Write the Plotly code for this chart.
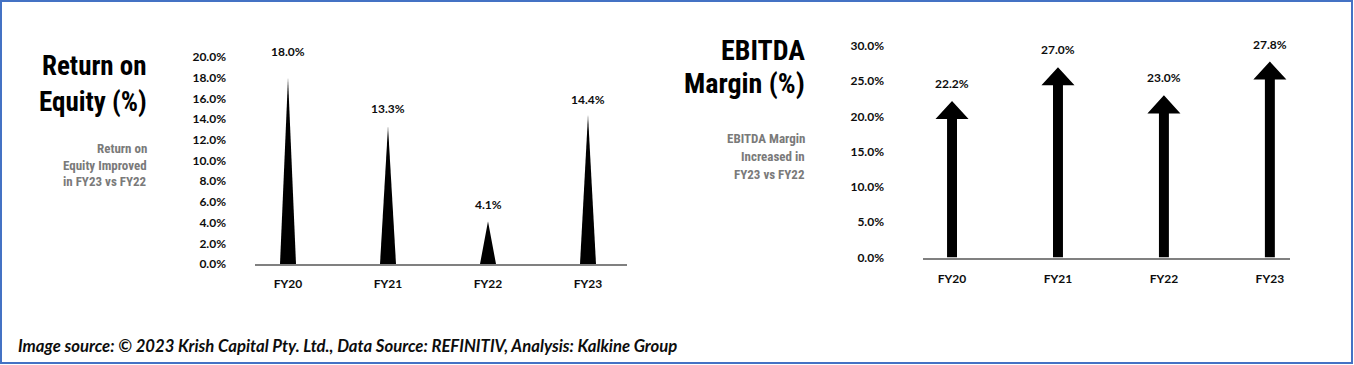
import plotly.graph_objects as go

# ---------------- data ----------------
categories = ["FY20", "FY21", "FY22", "FY23"]
roe_values = [18.0, 13.3, 4.1, 14.4]          # Return on Equity (%)
ebitda_values = [22.2, 27.0, 23.0, 27.8]      # EBITDA Margin (%)

roe_title = ["Return on", "Equity (%)"]
roe_note = ["Return on", "Equity Improved", "in FY23 vs FY22"]
ebitda_title = ["EBITDA", "Margin (%)"]
ebitda_note = ["EBITDA Margin", "Increased in", "FY23 vs FY22"]
footer = "Image source: \u00a9 2023 Krish Capital Pty. Ltd., Data Source: REFINITIV, Analysis: Kalkine Group"

# ---------------- styles ----------------
W, H = 1354, 365
TITLE_FONT = "Roboto Condensed, Open Sans Condensed, sans-serif"
LABEL_FONT = "Lato, Carlito, Open Sans, sans-serif"
roe_label_shift = [17, 8, 8, 6]     # px gap between triangle tip and label bottom
ebitda_label_shift = 8

def px_x(p):
    return p / W

def px_y(p):
    return 1 - p / H

fig = go.Figure()

# ---- ROE triangles ----
tri_half = 0.08
for i, v in enumerate(roe_values):
    fig.add_trace(go.Scatter(
        x=[i - tri_half, i, i + tri_half, i - tri_half],
        y=[0, v, 0, 0],
        fill="toself", fillcolor="black", mode="lines",
        line=dict(width=0, color="black"),
        hoverinfo="skip", showlegend=False, xaxis="x", yaxis="y"))

# ---- EBITDA arrows ----
shaft_half = 0.047
head_half = 0.156
head_h = 2.56
for i, v in enumerate(ebitda_values):
    hb = v - head_h
    fig.add_trace(go.Scatter(
        x=[i - shaft_half, i - shaft_half, i - head_half, i, i + head_half,
           i + shaft_half, i + shaft_half, i - shaft_half],
        y=[0, hb, hb, v, hb, hb, 0, 0],
        fill="toself", fillcolor="black", mode="lines",
        line=dict(width=0, color="black"),
        hoverinfo="skip", showlegend=False, xaxis="x2", yaxis="y2"))

annotations = []
lab_font = dict(family=LABEL_FONT, size=12, color="#0d0d0d", weight="bold")
for i, v in enumerate(roe_values):
    annotations.append(dict(x=i, y=v, xref="x", yref="y", text=f"{v:.1f}%",
                            showarrow=False, yanchor="bottom", yshift=roe_label_shift[i],
                            font=lab_font))
for i, v in enumerate(ebitda_values):
    annotations.append(dict(x=i, y=v, xref="x2", yref="y2", text=f"{v:.1f}%",
                            showarrow=False, yanchor="bottom", yshift=ebitda_label_shift,
                            font=lab_font))

# titles
for k, line in enumerate(roe_title):
    annotations.append(dict(x=px_x(149), y=px_y([66, 102][k]), xref="paper", yref="paper",
                            text=line, showarrow=False, xanchor="right", yanchor="middle",
                            font=dict(family=TITLE_FONT, size=27, color="black", weight="bold")))
for k, line in enumerate(ebitda_title):
    annotations.append(dict(x=px_x(807), y=px_y([50, 83][k]), xref="paper", yref="paper",
                            text=line, showarrow=False, xanchor="right", yanchor="middle",
                            font=dict(family=TITLE_FONT, size=28, color="black", weight="bold")))
for k, line in enumerate(roe_note):
    annotations.append(dict(x=px_x(149), y=px_y([148, 165, 182][k]), xref="paper", yref="paper",
                            text=line, showarrow=False, xanchor="right", yanchor="middle",
                            font=dict(family=TITLE_FONT, size=13, color="#7a7a7a", weight="bold")))
for k, line in enumerate(ebitda_note):
    annotations.append(dict(x=px_x(807), y=px_y([138, 156, 174][k]), xref="paper", yref="paper",
                            text=line, showarrow=False, xanchor="right", yanchor="middle",
                            font=dict(family=TITLE_FONT, size=13, color="#7a7a7a", weight="bold")))

annotations.append(dict(x=px_x(16), y=px_y(346), xref="paper", yref="paper", text=footer,
                        showarrow=False, xanchor="left", yanchor="middle",
                        font=dict(family=LABEL_FONT, size=16.7, color="#0d0d0d",
                                  style="italic", weight="bold")))

tick_font = dict(family=LABEL_FONT, size=12, color="#0d0d0d", weight="bold")

fig.update_layout(
    width=W, height=H,
    margin=dict(l=0, r=0, t=0, b=0, pad=0, autoexpand=False),
    paper_bgcolor="white", plot_bgcolor="white",
    showlegend=False,
    annotations=annotations,
    xaxis=dict(domain=[px_x(255), px_x(627)], range=[-0.33, 3.39], anchor="y",
               tickvals=list(range(len(categories))), ticktext=categories,
               showgrid=False, zeroline=False, showline=True, linecolor="#808080", linewidth=2,
               ticks="", ticklabelstandoff=8, tickfont=tick_font, fixedrange=True,
               automargin=False),
    yaxis=dict(domain=[px_y(264), px_y(57)], range=[0, 20], anchor="x",
               tickmode="linear", tick0=0, dtick=2, tickformat=".1f", ticksuffix="%",
               showgrid=False, zeroline=False, showline=False, ticks="",
               ticklabelstandoff=28, tickfont=tick_font, fixedrange=True, automargin=False),
    xaxis2=dict(domain=[px_x(923), px_x(1290)], range=[-0.274, 3.19], anchor="y2",
                tickvals=list(range(len(categories))), ticktext=categories,
                showgrid=False, zeroline=False, showline=True, linecolor="#808080", linewidth=2,
                ticks="", ticklabelstandoff=9, tickfont=tick_font, fixedrange=True,
                automargin=False),
    yaxis2=dict(domain=[px_y(257.5), px_y(46)], range=[0, 30], anchor="x2",
                tickmode="linear", tick0=0, dtick=5, tickformat=".1f", ticksuffix="%",
                showgrid=False, zeroline=False, showline=False, ticks="",
                ticklabelstandoff=38, tickfont=tick_font, fixedrange=True, automargin=False),
    shapes=[dict(type="rect", xref="paper", yref="paper",
                 x0=px_x(1), x1=px_x(1352), y0=px_y(363), y1=px_y(1),
                 line=dict(color="#4472C4", width=2), fillcolor="rgba(0,0,0,0)")],
)

post = (
    "document.documentElement.style.margin='0';"
    "document.documentElement.style.padding='0';"
    "document.documentElement.style.overflow='hidden';"
    "document.body.style.margin='0';"
    "document.body.style.padding='0';"
    "document.body.style.overflow='hidden';"
    "var gd=document.getElementById('{plot_id}');"
    "gd.style.position='fixed';gd.style.left='0px';gd.style.top='0px';"
)
fig.write_html("out.html", config={"displayModeBar": False, "staticPlot": True},
               post_script=post)
